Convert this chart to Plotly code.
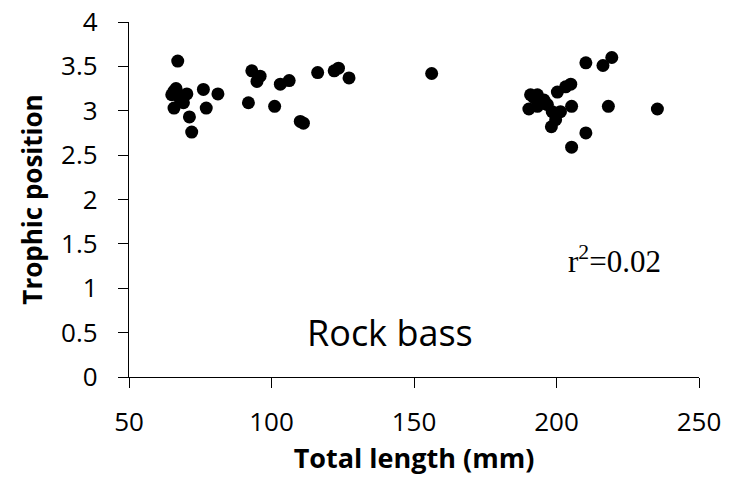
import plotly.graph_objects as go

# Total length (mm) and trophic position for rock bass
length_mm = [67.1, 65.8, 65.0, 67.9, 70.3, 65.8, 69.1, 66.5, 68.2, 76.1, 81.2, 77.1, 71.2, 72.0,
             93.1, 96.0, 94.9, 91.9, 103.1, 106.2, 101.1, 110.1, 111.2, 116.2, 122.0, 123.5,
             127.2, 156.2,
             210.3, 216.3, 219.4, 205.0, 203.2, 200.3, 190.9, 193.3, 195.6, 190.3, 193.3,
             196.8, 198.5, 201.4, 199.7, 198.2, 205.3, 218.2, 235.4, 210.3, 205.3, 192.0, 194.5]
trophic_pos = [3.56, 3.22, 3.18, 3.14, 3.19, 3.03, 3.09, 3.25, 3.12, 3.24, 3.19, 3.03, 2.93, 2.76,
               3.45, 3.39, 3.33, 3.09, 3.30, 3.34, 3.05, 2.88, 2.86, 3.43, 3.45, 3.48,
               3.37, 3.42,
               3.54, 3.51, 3.60, 3.30, 3.27, 3.21, 3.18, 3.18, 3.12, 3.02, 3.05,
               3.07, 2.99, 2.99, 2.90, 2.82, 3.05, 3.05, 3.02, 2.75, 2.59, 3.15, 3.10]

x_ticks = [50, 100, 150, 200, 250]
y_ticks = [0, 0.5, 1, 1.5, 2, 2.5, 3, 3.5, 4]
y_tick_text = ["0", "0.5", "1", "1.5", "2", "2.5", "3", "3.5", "4"]

FONT = "Open Sans"

fig = go.Figure()
fig.add_trace(go.Scatter(x=length_mm, y=trophic_pos, mode="markers",
                         marker=dict(color="black", size=13, line=dict(width=0)),
                         showlegend=False, hoverinfo="skip", cliponaxis=False))

fig.update_layout(
    width=738, height=482,
    margin=dict(l=129, r=39, t=22, b=105, autoexpand=False),
    paper_bgcolor="white", plot_bgcolor="white",
    font=dict(family=FONT, color="black", size=26),
)
fig.update_xaxes(range=[50, 250], tickvals=x_ticks, showline=True, linecolor="black",
                 linewidth=1.3, ticks="outside", ticklen=10, tickwidth=1.3, tickcolor="black",
                 showgrid=False, zeroline=False, tickfont=dict(size=26, family=FONT),
                 ticklabelstandoff=12, automargin=False,
                 title=dict(text="<b>Total length (mm)</b>", font=dict(size=27, family=FONT),
                            standoff=6))
fig.update_yaxes(range=[0, 4], tickvals=y_ticks, ticktext=y_tick_text, showline=True,
                 linecolor="black", linewidth=1.3, ticks="outside", ticklen=10, tickwidth=1.3,
                 tickcolor="black", showgrid=False, zeroline=False,
                 tickfont=dict(size=26, family=FONT), ticklabelstandoff=15, automargin=False,
                 title=dict(text="<b>Trophic position</b>", font=dict(size=26, family=FONT),
                            standoff=10))

fig.add_annotation(x=141.5, y=0.5, text="Rock bass", showarrow=False,
                   font=dict(size=36, family=FONT, color="black"))
fig.add_annotation(x=220.4, y=1.32, text="r<sup>2</sup>=0.02", showarrow=False,
                   font=dict(size=31, family="Liberation Serif", color="black"))

fig.write_html("out.html")
